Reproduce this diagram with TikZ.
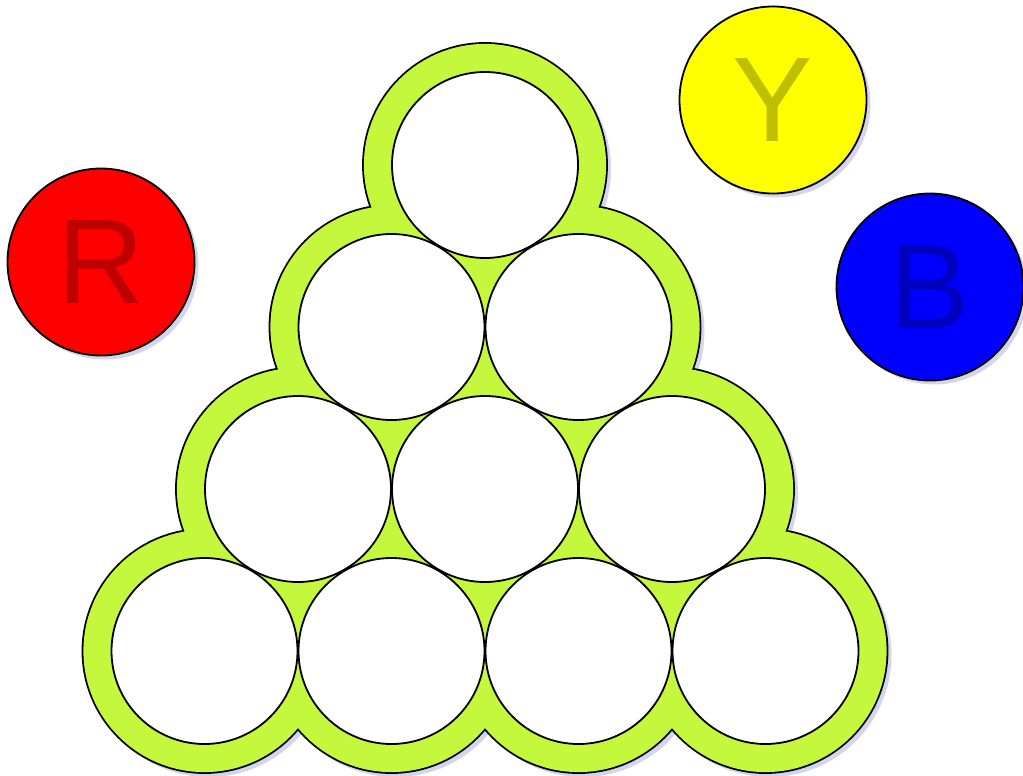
\documentclass[tikz,border=0pt]{standalone}
\usepackage{fontspec}
\setmainfont{Liberation Sans}
\usetikzlibrary{shadows}
\definecolor{rackgreen}{RGB}{196, 248, 60}
\definecolor{rackshade}{RGB}{212, 212, 236}
\definecolor{ballred}{RGB}{255, 0, 0}
\definecolor{ballyellow}{RGB}{255, 255, 0}
\definecolor{ballblue}{RGB}{0, 0, 255}
\tikzset{
  hole/.style={
    circle,
    draw=black,
    line width=1.8bp,
    fill=white,
    minimum size=186bp,
    inner sep=0pt
  },
  token/.style={
    circle,
    draw=black,
    line width=1.8bp,
    minimum size=187bp,
    inner sep=0pt,
    font=\fontsize{121}{121}\selectfont,
    drop shadow={shadow xshift=4bp, shadow yshift=-4bp, fill=rackshade, opacity=1}
  }
}

\begin{document}
\begin{tikzpicture}[x=1bp, y=-1bp]
  \useasboundingbox (0,0) rectangle (1023,776);
  % rack: shadow, rim, green body
  \foreach \k in {0,...,3}
    \foreach \j in {0,...,\k}
      \fill[rackshade] (489+187*\j-93.5*\k, 169+162*\k) circle (122);
  \foreach \k in {0,...,3}
    \foreach \j in {0,...,\k}
      \fill[black] (485+187*\j-93.5*\k, 165+162*\k) circle (122.9);
  \foreach \k in {0,...,3}
    \foreach \j in {0,...,\k}
      \fill[rackgreen] (485+187*\j-93.5*\k, 165+162*\k) circle (121.1);
  % holes
  \foreach \k in {0,...,3}
    \foreach \j in {0,...,\k}
      \node[hole] (h\k\j) at (485+187*\j-93.5*\k, 165+162*\k) {};
  % balls
  \node[token, fill=ballred, text=ballred!75!black] (R) at (101, 262) {R};
  \node[token, fill=ballyellow, text=ballyellow!75!black] (Y) at (773, 100) {Y};
  \node[token, fill=ballblue, text=ballblue!75!black] (B) at (930, 287) {B};
\end{tikzpicture}
\end{document}
